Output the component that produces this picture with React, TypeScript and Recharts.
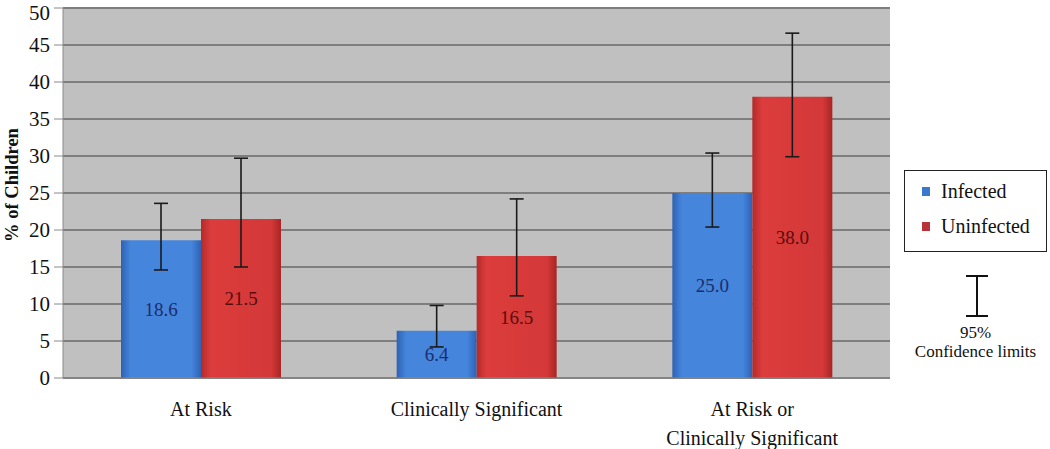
import React from "react";
import {
  BarChart,
  Bar,
  XAxis,
  YAxis,
  CartesianGrid,
  ErrorBar,
  LabelList,
} from "recharts";

const categories = ["At Risk", "Clinically Significant", "At Risk or Clinically Significant"];
const tickLines = [["At Risk"], ["Clinically Significant"], ["At Risk or", "Clinically Significant"]];
const infected = [18.6, 6.4, 25.0];
const uninfected = [21.5, 16.5, 38.0];
const infectedLow = [14.6, 4.2, 20.4];
const infectedHigh = [23.6, 9.8, 30.4];
const uninfectedLow = [15.0, 11.1, 29.9];
const uninfectedHigh = [29.7, 24.2, 46.6];
const yTicks = [0, 5, 10, 15, 20, 25, 30, 35, 40, 45, 50];

const data = categories.map((name, i) => ({
  name,
  infected: infected[i],
  uninfected: uninfected[i],
  infectedErr: [infected[i] - infectedLow[i], infectedHigh[i] - infected[i]],
  uninfectedErr: [uninfected[i] - uninfectedLow[i], uninfectedHigh[i] - uninfected[i]],
}));

const serif = "'Liberation Serif', 'Times New Roman', serif";

function XTick(props: any) {
  const { x, y, index } = props;
  const lines = tickLines[index] || [];
  return (
    <g>
      {lines.map((l: string, k: number) => (
        <text
          key={k}
          x={x}
          y={y + 30 + k * 29}
          textAnchor="middle"
          fontFamily={serif}
          fontSize={20}
          fill="#111"
        >
          {l}
        </text>
      ))}
    </g>
  );
}

function LegendBox() {
  return (
    <div style={{ position: "absolute", left: 904, top: 170, fontFamily: serif, color: "#111" }}>
      <div
        style={{
          border: "1.5px solid #222",
          width: 143,
          height: 82,
          boxSizing: "border-box",
          padding: "4px 0 0 17px",
          fontSize: 20,
        }}
      >
        <div style={{ display: "flex", alignItems: "center", height: 32 }}>
          <span style={{ width: 8, height: 9, background: "#3a78cf", marginRight: 11, display: "inline-block" }} />
          Infected
        </div>
        <div style={{ display: "flex", alignItems: "center", height: 38 }}>
          <span style={{ width: 8, height: 9, background: "#b8323a", marginRight: 11, display: "inline-block" }} />
          Uninfected
        </div>
      </div>
      <svg width={143} height={44} style={{ display: "block", marginTop: 23 }}>
        <line x1={62} y1={1} x2={84} y2={1} stroke="#111" strokeWidth={2} />
        <line x1={73} y1={1} x2={73} y2={41} stroke="#111" strokeWidth={2} />
        <line x1={62} y1={41} x2={84} y2={41} stroke="#111" strokeWidth={2} />
      </svg>
      <div style={{ width: 143, textAlign: "center", fontSize: 17, lineHeight: "19px", marginTop: 4 }}>
        95%
        <br />
        Confidence limits
      </div>
    </div>
  );
}

export default function App() {
  return (
    <div style={{ position: "absolute", left: 0, top: 0, width: 1050, height: 449, background: "#fff" }}>
      <BarChart
        width={1050}
        height={449}
        data={data}
        margin={{ top: 8, right: 160, bottom: 0, left: 0 }}
        barCategoryGap={58}
        barGap={0}
      >
        <defs>
          <linearGradient id="gBlue" x1="0" y1="0" x2="1" y2="0">
            <stop offset="0%" stopColor="#2d62b4" />
            <stop offset="12%" stopColor="#4585dc" />
            <stop offset="88%" stopColor="#4585dc" />
            <stop offset="100%" stopColor="#2d62b4" />
          </linearGradient>
          <linearGradient id="gRed" x1="0" y1="0" x2="1" y2="0">
            <stop offset="0%" stopColor="#b42a2a" />
            <stop offset="12%" stopColor="#dc3c3c" />
            <stop offset="88%" stopColor="#d43838" />
            <stop offset="100%" stopColor="#a82424" />
          </linearGradient>
        </defs>
        <CartesianGrid fill="#c0c0c0" stroke="#7e7e7e" strokeWidth={1.8} vertical={false} />
        <XAxis
          dataKey="name"
          height={71}
          tickLine={false}
          axisLine={{ stroke: "#8a8a8a" }}
          tick={<XTick />}
          interval={0}
        />
        <YAxis
          width={63}
          domain={[0, 50]}
          ticks={yTicks}
          tickSize={9}
          tickMargin={4}
          axisLine={{ stroke: "#8a8a8a" }}
          tickLine={{ stroke: "#8a8a8a" }}
          tick={{ fontFamily: serif, fontSize: 21, fill: "#111" }}
          label={{
            value: "% of Children",
            angle: -90,
            position: "insideLeft",
            offset: 0,
            dx: 11,
            dy: -8,
            style: { fontFamily: serif, fontSize: 18.5, fontWeight: "bold", fill: "#111", textAnchor: "middle" },
          }}
        />
        <Bar dataKey="infected" name="Infected" fill="url(#gBlue)" isAnimationActive={false}>
          <ErrorBar dataKey="infectedErr" width={7} stroke="#1a1a1a" strokeWidth={1.6} direction="y" />
          <LabelList
            dataKey="infected"
            position="center"
            formatter={(v: any) => Number(v).toFixed(1)}
            style={{ fontFamily: serif, fontSize: 19, fill: "#1b2d6e" }}
          />
        </Bar>
        <Bar dataKey="uninfected" name="Uninfected" fill="url(#gRed)" isAnimationActive={false}>
          <ErrorBar dataKey="uninfectedErr" width={7} stroke="#1a1a1a" strokeWidth={1.6} direction="y" />
          <LabelList
            dataKey="uninfected"
            position="center"
            formatter={(v: any) => Number(v).toFixed(1)}
            style={{ fontFamily: serif, fontSize: 19, fill: "#5a0c0c" }}
          />
        </Bar>
      </BarChart>
      <LegendBox />
    </div>
  );
}
